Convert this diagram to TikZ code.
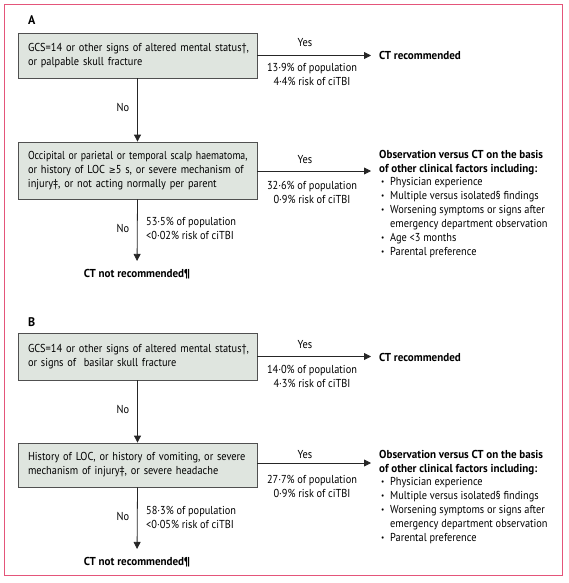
\documentclass[tikz,border=0pt]{standalone}
\usepackage{fontspec}
\setmainfont{PT Sans}[FakeStretch=0.9]
\newfontfamily\hdfont{PT Sans}[FakeStretch=0.96]
\newfontfamily\symfont{DejaVu Sans}[FakeStretch=0.87]
\usetikzlibrary{arrows.meta}
\definecolor{framepink}{HTML}{E4557A}
\definecolor{boxfill}{HTML}{DFE5DF}
\definecolor{boxline}{HTML}{505050}
\newcommand{\bul}{\makebox[11pt][l]{\hspace*{2pt}\raisebox{1.2pt}{\scalebox{0.7}{\textbullet}}}}
\newcommand{\ind}{\hspace*{11pt}}
\newcommand{\bl}[1]{\hspace*{10pt}\mbox{#1}}
\newcommand{\li}[1]{{\rmfamily\mdseries #1}}
\tikzset{
  base/.style={font=\fontsize{11.5}{14}\selectfont, inner sep=0pt},
  qbox/.style={base, draw=boxline, line width=0.8pt, fill=boxfill, minimum width=239pt, text width=239pt, align=left},
  lbl/.style={base},
  res/.style={base, font=\fontsize{11.5}{14}\selectfont\hdfont\bfseries, align=left},
  stat/.style={base, align=center},
  arr/.style={line width=0.8pt, draw=black!85, -{Triangle[length=7pt,width=7pt]}},
  panel/.style={base, font=\fontsize{12.5}{14}\selectfont\hdfont\bfseries}
}
\begin{document}
\begin{tikzpicture}[x=1pt,y=-1pt]
\useasboundingbox (0,0) rectangle (568,583);
\draw[framepink, line width=1pt] (4,5) rectangle (562,575);

% Panel A
\node[panel, anchor=west] (pA) at (28,20) {A};
\node[qbox, minimum height=45pt] (a1) at (137.5,55.5) {\bl{GCS=14 or other signs of altered mental status†,}\\\bl{or palpable skull fracture}};
\node[res, anchor=west] (a1yes) at (379,55) {CT recommended};
\draw[arr, shorten >=8pt] (a1.east) -- (a1.east -| a1yes.west);
\node[lbl] (a1y) at (305,43) {Yes};
\node[stat] (a1s) at (312,74) {13·9\% of population\\4·4\% risk of ciTBI};

\node[qbox, minimum height=57pt] (a2) at (137.5,170.5) {\bl{\scalebox{0.95}[1]{Occipital or parietal or temporal scalp haematoma,}}\\\bl{or history of LOC {\symfont\fontsize{9.5}{14}\selectfont≥}5 s, or severe mechanism of}\\\bl{injury‡, or not acting normally per parent}};
\draw[arr] (a1.south) -- (a2.north);
\node[lbl] (a1n) at (123,107) {No};

\node[res, anchor=north west] (a2yes) at (379,150) {Observation versus CT on the basis\\of other clinical factors including:\\[-1pt]
\li{\bul Physician experience}\\
\li{\bul Multiple versus isolated§ findings}\\
\li{\bul Worsening symptoms or signs after}\\
\li{\ind emergency department observation}\\
\li{\bul Age <3 months}\\
\li{\bul Parental preference}};
\coordinate (a2tip) at (371,171);
\draw[arr] (a2.east |- a2tip) -- (a2tip);
\node[lbl] (a2y) at (305,160) {Yes};
\node[stat] (a2s) at (312,192) {32·6\% of population\\0·9\% risk of ciTBI};

\node[res, anchor=center] (a2no) at (137,274) {CT not recommended¶};
\draw[arr, shorten >=8pt] (a2.south) -- (a2no.north);
\node[lbl] (a2n) at (123,228) {No};
\node[stat, anchor=west, align=left] (a2ns) at (146,228.5) {53·5\% of population\\<0·02\% risk of ciTBI};

% Panel B
\node[panel, anchor=west] (pB) at (28,322) {B};
\node[qbox, minimum height=47pt] (b1) at (137.5,356.5) {\bl{GCS=14 or other signs of altered mental status†,}\\\bl{or signs of \ basilar skull fracture}};
\node[res, anchor=west] (b1yes) at (379,357) {CT recommended};
\draw[arr, shorten >=8pt] (b1.east) -- (b1.east -| b1yes.west);
\node[lbl] (b1y) at (305,345) {Yes};
\node[stat] (b1s) at (312,376) {14·0\% of population\\4·3\% risk of ciTBI};

\node[qbox, minimum height=44pt] (b2) at (137.5,465) {\bl{History of LOC, or history of vomiting, or severe}\\\bl{mechanism of injury‡, or severe headache}};
\draw[arr] (b1.south) -- (b2.north);
\node[lbl] (b1n) at (123,409) {No};

\node[res, anchor=north west] (b2yes) at (379,450) {Observation versus CT on the basis\\of other clinical factors including:\\[-1pt]
\li{\bul Physician experience}\\
\li{\bul Multiple versus isolated§ findings}\\
\li{\bul Worsening symptoms or signs after}\\
\li{\ind emergency department observation}\\
\li{\bul Parental preference}};
\coordinate (b2tip) at (371,463);
\draw[arr] (b2.east |- b2tip) -- (b2tip);
\node[lbl] (b2y) at (305,455) {Yes};
\node[stat] (b2s) at (312,486) {27·7\% of population\\0·9\% risk of ciTBI};

\node[res, anchor=center] (b2no) at (137,562) {CT not recommended¶};
\draw[arr, shorten >=8pt] (b2.south) -- (b2no.north);
\node[lbl] (b2n) at (123,516) {No};
\node[stat, anchor=west, align=left] (b2ns) at (146,517.5) {58·3\% of population\\<0·05\% risk of ciTBI};
\end{tikzpicture}
\end{document}
